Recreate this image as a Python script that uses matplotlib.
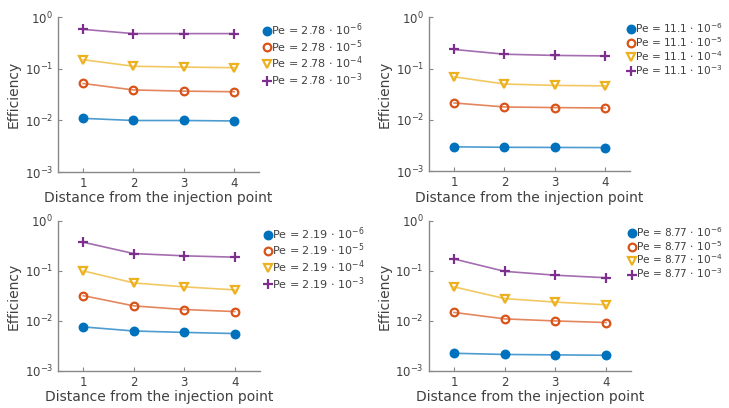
import matplotlib
matplotlib.use("Agg")
import matplotlib.pyplot as plt
from matplotlib.lines import Line2D
from matplotlib.ticker import LogLocator, NullLocator

x = [1, 2, 3, 4]

prefixes = ["2.78", "11.1", "2.19", "8.77"]
exponents = [-6, -5, -4, -3]

# series values per panel (order: 1e-6, 1e-5, 1e-4, 1e-3)
tl_vals = [[0.011, 0.0100, 0.0100, 0.0098],
           [0.052, 0.039, 0.037, 0.036],
           [0.150, 0.112, 0.108, 0.105],
           [0.58, 0.48, 0.48, 0.48]]
tr_vals = [[0.0030, 0.00294, 0.00292, 0.0029],
           [0.0214, 0.0179, 0.0174, 0.0171],
           [0.069, 0.050, 0.047, 0.046],
           [0.235, 0.190, 0.180, 0.176]]
bl_vals = [[0.0076, 0.0063, 0.0059, 0.0056],
           [0.032, 0.020, 0.0169, 0.0154],
           [0.100, 0.0575, 0.048, 0.0417],
           [0.374, 0.222, 0.200, 0.188]]
br_vals = [[0.00226, 0.00214, 0.0021, 0.00206],
           [0.0148, 0.0110, 0.0100, 0.0093],
           [0.048, 0.028, 0.0238, 0.021],
           [0.173, 0.098, 0.082, 0.073]]
panels = [tl_vals, tr_vals, bl_vals, br_vals]

colors = ["#0072BD", "#D95319", "#EDB120", "#7E2F8E"]
markers = ["o", "o", "v", "+"]
filled = [True, False, False, False]

xlabel = "Distance from the injection point"
ylabel = "Efficiency"

fig = plt.figure(figsize=(7.29, 4.08), dpi=100)
positions = [[0.0796, 0.578, 0.276, 0.380],
             [0.5885, 0.580, 0.276, 0.378],
             [0.0796, 0.0907, 0.277, 0.368],
             [0.588, 0.0907, 0.278, 0.368]]
leg_x = [1.0, 0.965, 1.0, 0.965]
leg_fs = [8, 7.6, 8, 7.6]
txtc = "#404040"
for p, (vals, pref) in enumerate(zip(panels, prefixes)):
    ax = fig.add_axes(positions[p])
    handles = []
    for i, v in enumerate(vals):
        mfc = colors[i] if filled[i] else "none"
        ms = 5.5 if markers[i] != "+" else 7
        ax.plot(x, v, color=colors[i], lw=1.2, alpha=0.7, zorder=2)
        ax.plot(x, v, linestyle="none", marker=markers[i], color=colors[i],
                mfc=mfc, mec=colors[i], ms=ms, mew=1.6, zorder=3)
        handles.append(Line2D([], [], linestyle="none", marker=markers[i],
                              color=colors[i], mfc=mfc, mec=colors[i],
                              ms=ms, mew=1.6,
                              label="Pe = %s $\\cdot$ 10$^{%d}$" % (pref, exponents[i])))
    ax.set_yscale("log")
    ax.set_ylim(1e-3, 1)
    ax.set_xlim(0.5, 4.5)
    ax.set_xticks(x)
    ax.yaxis.set_major_locator(LogLocator(base=10, numticks=10))
    ax.yaxis.set_minor_locator(NullLocator())
    for s in ["top", "right"]:
        ax.spines[s].set_visible(False)
    for s in ["left", "bottom"]:
        ax.spines[s].set_color("#888888")
        ax.spines[s].set_linewidth(1.0)
    ax.tick_params(direction="in", length=3, color="#888888", labelsize=8.5,
                   labelcolor=txtc)
    ax.set_xlabel(xlabel, fontsize=10, color=txtc, labelpad=1)
    ax.set_ylabel(ylabel, fontsize=10, color=txtc, labelpad=3)
    ax.legend(handles=handles, loc="upper left", bbox_to_anchor=(leg_x[p], 1.0),
              frameon=False, fontsize=leg_fs[p], handlelength=0.6,
              handletextpad=0.1, labelspacing=0.0, borderpad=0.2,
              borderaxespad=0.2, labelcolor=txtc)

fig.savefig("out.png", dpi=100)
